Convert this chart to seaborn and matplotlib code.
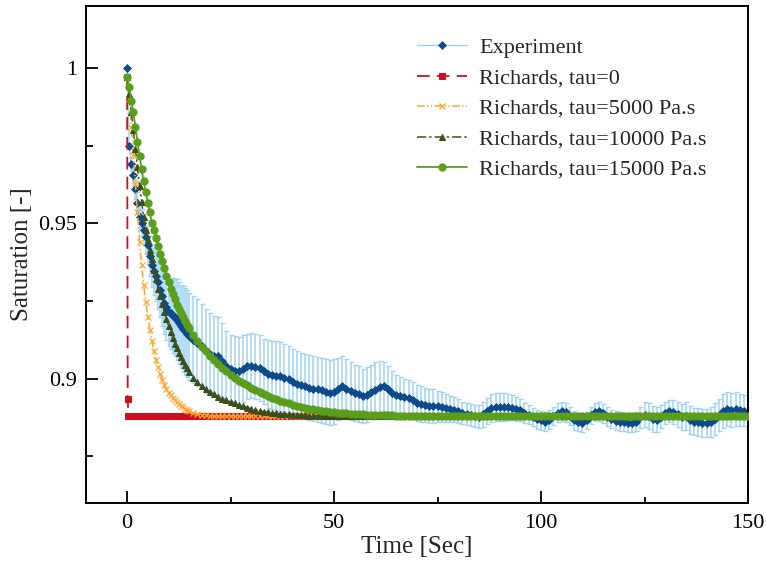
import numpy as np
import matplotlib
matplotlib.use("Agg")
import matplotlib.pyplot as plt
from matplotlib.ticker import MultipleLocator, FixedLocator
import seaborn as sns

# ---------------- data ----------------
labels = ["Experiment", "Richards, tau=0", "Richards, tau=5000 Pa.s",
          "Richards, tau=10000 Pa.s", "Richards, tau=15000 Pa.s"]

x_ticks = [0, 50, 100, 150]
y_ticks = [0.9, 0.95, 1.0]
y_tick_labels = ["0.9", "0.95", "1"]

# Every series: "early" samples every 0.5 s for t = 0 ... 14.5,
# "late" samples every 1 s for t = 15 ... 150.
exp_sat_early = [
    1.0000, 0.9750, 0.9690, 0.9655, 0.9610, 0.9565, 0.9520, 0.9500, 0.9480, 0.9455,
    0.9430, 0.9395, 0.9365, 0.9345, 0.9330, 0.9310, 0.9287, 0.9265, 0.9245, 0.9230,
    0.9215, 0.9210, 0.9203, 0.9197, 0.9190, 0.9178, 0.9168, 0.9160, 0.9152, 0.9145,
]
exp_sat_late = [
    0.9137, 0.9126, 0.9115, 0.9104, 0.9090, 0.9080,
    0.9074, 0.9072, 0.9058, 0.9040, 0.9030, 0.9026, 0.9024, 0.9032, 0.9040, 0.9042,
    0.9038, 0.9034, 0.9024, 0.9015, 0.9011, 0.9008, 0.9007, 0.9003, 0.8998, 0.8990,
    0.8983, 0.8979, 0.8975, 0.8971, 0.8968, 0.8966, 0.8962, 0.8958, 0.8955, 0.8958,
    0.8968, 0.8976, 0.8968, 0.8960, 0.8955, 0.8950, 0.8944, 0.8948, 0.8957, 0.8965,
    0.8972, 0.8975, 0.8966, 0.8955, 0.8948, 0.8944, 0.8940, 0.8938, 0.8930, 0.8922,
    0.8917, 0.8915, 0.8913, 0.8912, 0.8911, 0.8908, 0.8905, 0.8903, 0.8900, 0.8895,
    0.8890, 0.8885, 0.8882, 0.8879, 0.8878, 0.8885, 0.8897, 0.8904, 0.8908, 0.8910,
    0.8910, 0.8909, 0.8906, 0.8902, 0.8898, 0.8890, 0.8884, 0.8876, 0.8869, 0.8866,
    0.8862, 0.8868, 0.8880, 0.8890, 0.8895, 0.8892, 0.8880, 0.8866, 0.8860, 0.8858,
    0.8866, 0.8882, 0.8893, 0.8895, 0.8888, 0.8878, 0.8870, 0.8865, 0.8862, 0.8860,
    0.8858, 0.8857, 0.8862, 0.8875, 0.8884, 0.8880, 0.8870, 0.8868, 0.8878, 0.8890,
    0.8895, 0.8893, 0.8885, 0.8876, 0.8880, 0.8868, 0.8862, 0.8860, 0.8858, 0.8856,
    0.8860, 0.8870, 0.8882, 0.8895, 0.8902, 0.8898, 0.8902, 0.8900, 0.8896, 0.8890,
]
exp_err_early = [
    0.0000, 0.0010, 0.0020, 0.0025, 0.0030, 0.0035, 0.0040, 0.0045, 0.0050, 0.0055,
    0.0060, 0.0065, 0.0070, 0.0075, 0.0080, 0.0085, 0.0090, 0.0095, 0.0100, 0.0105,
    0.0110, 0.0115, 0.0120, 0.0125, 0.0130, 0.0132, 0.0135, 0.0138, 0.0140, 0.0140,
]
exp_err_late = [
    0.0140, 0.0140, 0.0140, 0.0135, 0.0135, 0.0130,
    0.0128, 0.0125, 0.0120, 0.0115, 0.0110, 0.0110, 0.0110, 0.0108, 0.0105, 0.0105,
    0.0105, 0.0105, 0.0105, 0.0108, 0.0110, 0.0112, 0.0112, 0.0110, 0.0108, 0.0105,
    0.0105, 0.0105, 0.0105, 0.0105, 0.0105, 0.0105, 0.0105, 0.0105, 0.0105, 0.0105,
    0.0100, 0.0098, 0.0095, 0.0092, 0.0090, 0.0090, 0.0088, 0.0088, 0.0088, 0.0088,
    0.0085, 0.0080, 0.0075, 0.0070, 0.0065, 0.0060, 0.0060, 0.0058, 0.0058, 0.0058,
    0.0058, 0.0055, 0.0055, 0.0055, 0.0050, 0.0048, 0.0045, 0.0042, 0.0040, 0.0038,
    0.0036, 0.0035, 0.0035, 0.0035, 0.0038, 0.0040, 0.0042, 0.0045, 0.0045, 0.0045,
    0.0045, 0.0042, 0.0040, 0.0038, 0.0035, 0.0032, 0.0030, 0.0030, 0.0030, 0.0030,
    0.0030, 0.0030, 0.0030, 0.0030, 0.0030, 0.0030, 0.0030, 0.0030, 0.0030, 0.0030,
    0.0028, 0.0028, 0.0030, 0.0030, 0.0030, 0.0030, 0.0030, 0.0030, 0.0030, 0.0030,
    0.0030, 0.0030, 0.0032, 0.0035, 0.0040, 0.0042, 0.0042, 0.0040, 0.0038, 0.0035,
    0.0035, 0.0038, 0.0040, 0.0042, 0.0045, 0.0045, 0.0045, 0.0045, 0.0045, 0.0045,
    0.0048, 0.0050, 0.0052, 0.0055, 0.0055, 0.0055, 0.0055, 0.0052, 0.0050, 0.0050,
]

# Richards tau=0: samples at t=0, 0.15, 0.3, then every second
tau0_time_head = [0, 0.15, 0.3]
tau0_sat = [
    0.997, 0.8935, 0.888,
    0.888, 0.888, 0.888, 0.888, 0.888, 0.888, 0.888, 0.888, 0.888, 0.888,
    0.888, 0.888, 0.888, 0.888, 0.888, 0.888, 0.888, 0.888, 0.888, 0.888,
    0.888, 0.888, 0.888, 0.888, 0.888, 0.888, 0.888, 0.888, 0.888, 0.888,
    0.888, 0.888, 0.888, 0.888, 0.888, 0.888, 0.888, 0.888, 0.888, 0.888,
    0.888, 0.888, 0.888, 0.888, 0.888, 0.888, 0.888, 0.888, 0.888, 0.888,
    0.888, 0.888, 0.888, 0.888, 0.888, 0.888, 0.888, 0.888, 0.888, 0.888,
    0.888, 0.888, 0.888, 0.888, 0.888, 0.888, 0.888, 0.888, 0.888, 0.888,
    0.888, 0.888, 0.888, 0.888, 0.888, 0.888, 0.888, 0.888, 0.888, 0.888,
    0.888, 0.888, 0.888, 0.888, 0.888, 0.888, 0.888, 0.888, 0.888, 0.888,
    0.888, 0.888, 0.888, 0.888, 0.888, 0.888, 0.888, 0.888, 0.888, 0.888,
    0.888, 0.888, 0.888, 0.888, 0.888, 0.888, 0.888, 0.888, 0.888, 0.888,
    0.888, 0.888, 0.888, 0.888, 0.888, 0.888, 0.888, 0.888, 0.888, 0.888,
    0.888, 0.888, 0.888, 0.888, 0.888, 0.888, 0.888, 0.888, 0.888, 0.888,
    0.888, 0.888, 0.888, 0.888, 0.888, 0.888, 0.888, 0.888, 0.888, 0.888,
    0.888, 0.888, 0.888, 0.888, 0.888, 0.888, 0.888, 0.888, 0.888, 0.888,
]

tau5000_early = [
    0.9970, 0.9900, 0.9810, 0.9720, 0.9630, 0.9535, 0.9440, 0.9365, 0.9300, 0.9248,
    0.9200, 0.9158, 0.9120, 0.9088, 0.9060, 0.9036, 0.9015, 0.8997, 0.8980, 0.8967,
    0.8955, 0.8946, 0.8938, 0.8931, 0.8925, 0.8919, 0.8913, 0.8908, 0.8903, 0.8899,
]
tau5000_late = [
    0.8896, 0.8890, 0.8886, 0.8884, 0.8882,
    0.8881, 0.888, 0.888, 0.888, 0.888, 0.888, 0.888, 0.888, 0.888, 0.888,
    0.888, 0.888, 0.888, 0.888, 0.888, 0.888, 0.888, 0.888, 0.888, 0.888,
    0.888, 0.888, 0.888, 0.888, 0.888, 0.888, 0.888, 0.888, 0.888, 0.888,
    0.888, 0.888, 0.888, 0.888, 0.888, 0.888, 0.888, 0.888, 0.888, 0.888,
    0.888, 0.888, 0.888, 0.888, 0.888, 0.888, 0.888, 0.888, 0.888, 0.888,
    0.888, 0.888, 0.888, 0.888, 0.888, 0.888, 0.888, 0.888, 0.888, 0.888,
    0.888, 0.888, 0.888, 0.888, 0.888, 0.888, 0.888, 0.888, 0.888, 0.888,
    0.888, 0.888, 0.888, 0.888, 0.888, 0.888, 0.888, 0.888, 0.888, 0.888,
    0.888, 0.888, 0.888, 0.888, 0.888, 0.888, 0.888, 0.888, 0.888, 0.888,
    0.888, 0.888, 0.888, 0.888, 0.888, 0.888, 0.888, 0.888, 0.888, 0.888,
    0.888, 0.888, 0.888, 0.888, 0.888, 0.888, 0.888, 0.888, 0.888, 0.888,
    0.888, 0.888, 0.888, 0.888, 0.888, 0.888, 0.888, 0.888, 0.888, 0.888,
    0.888, 0.888, 0.888, 0.888, 0.888, 0.888, 0.888, 0.888, 0.888, 0.888,
    0.888,
]

tau10000_early = [
    0.9970, 0.9918, 0.9860, 0.9800, 0.9740, 0.9680, 0.9620, 0.9570, 0.9520, 0.9480,
    0.9445, 0.9415, 0.9385, 0.9350, 0.9320, 0.9290, 0.9265, 0.9240, 0.9215, 0.9192,
    0.9170, 0.9150, 0.9130, 0.9113, 0.9098, 0.9084, 0.9070, 0.9057, 0.9045, 0.9033,
]
tau10000_late = [
    0.9022, 0.9003, 0.8988, 0.8975, 0.8966,
    0.8957, 0.8949, 0.8942, 0.8936, 0.8930, 0.8925, 0.8920, 0.8915, 0.8911, 0.8907,
    0.8903, 0.8900, 0.8897, 0.8894, 0.8892, 0.8890, 0.8888, 0.8887, 0.8886, 0.8885,
    0.8884, 0.8883, 0.8882, 0.8882, 0.8881, 0.8881, 0.888, 0.888, 0.888, 0.888,
    0.888, 0.888, 0.888, 0.888, 0.888, 0.888, 0.888, 0.888, 0.888, 0.888,
    0.888, 0.888, 0.888, 0.888, 0.888, 0.888, 0.888, 0.888, 0.888, 0.888,
    0.888, 0.888, 0.888, 0.888, 0.888, 0.888, 0.888, 0.888, 0.888, 0.888,
    0.888, 0.888, 0.888, 0.888, 0.888, 0.888, 0.888, 0.888, 0.888, 0.888,
    0.888, 0.888, 0.888, 0.888, 0.888, 0.888, 0.888, 0.888, 0.888, 0.888,
    0.888, 0.888, 0.888, 0.888, 0.888, 0.888, 0.888, 0.888, 0.888, 0.888,
    0.888, 0.888, 0.888, 0.888, 0.888, 0.888, 0.888, 0.888, 0.888, 0.888,
    0.888, 0.888, 0.888, 0.888, 0.888, 0.888, 0.888, 0.888, 0.888, 0.888,
    0.888, 0.888, 0.888, 0.888, 0.888, 0.888, 0.888, 0.888, 0.888, 0.888,
    0.888, 0.888, 0.888, 0.888, 0.888, 0.888, 0.888, 0.888, 0.888, 0.888,
    0.888,
]

tau15000_early = [
    0.9970, 0.9938, 0.9895, 0.9857, 0.9810, 0.9762, 0.9717, 0.9674, 0.9636, 0.9601,
    0.9567, 0.9535, 0.9502, 0.9478, 0.9454, 0.9428, 0.9402, 0.9378, 0.9355, 0.9332,
    0.9310, 0.9290, 0.9272, 0.9255, 0.9238, 0.9224, 0.9210, 0.9197, 0.9185, 0.9173,
]
tau15000_late = [
    0.9162, 0.9140, 0.9120, 0.9103, 0.9088,
    0.9073, 0.9060, 0.9047, 0.9035, 0.9024, 0.9013, 0.9003, 0.8994, 0.8986, 0.8978,
    0.8970, 0.8963, 0.8956, 0.8950, 0.8944, 0.8938, 0.8933, 0.8928, 0.8924, 0.8920,
    0.8916, 0.8912, 0.8909, 0.8906, 0.8903, 0.8901, 0.8899, 0.8897, 0.8895, 0.8893,
    0.8892, 0.8890, 0.8889, 0.8888, 0.8887, 0.8886, 0.8885, 0.8885, 0.8884, 0.8884,
    0.8883, 0.8883, 0.8882, 0.8882, 0.8882, 0.8881, 0.8881, 0.8881, 0.8881, 0.8881,
    0.888, 0.888, 0.888, 0.888, 0.888, 0.888, 0.888, 0.888, 0.888, 0.888,
    0.888, 0.888, 0.888, 0.888, 0.888, 0.888, 0.888, 0.888, 0.888, 0.888,
    0.888, 0.888, 0.888, 0.888, 0.888, 0.888, 0.888, 0.888, 0.888, 0.888,
    0.888, 0.888, 0.888, 0.888, 0.888, 0.888, 0.888, 0.888, 0.888, 0.888,
    0.888, 0.888, 0.888, 0.888, 0.888, 0.888, 0.888, 0.888, 0.888, 0.888,
    0.888, 0.888, 0.888, 0.888, 0.888, 0.888, 0.888, 0.888, 0.888, 0.888,
    0.888, 0.888, 0.888, 0.888, 0.888, 0.888, 0.888, 0.888, 0.888, 0.888,
    0.888, 0.888, 0.888, 0.888, 0.888, 0.888, 0.888, 0.888, 0.888, 0.888,
    0.888,
]


# ---------------- time axes ----------------
def time_axis(early, late):
    return np.concatenate([0.5 * np.arange(len(early)), 15 + np.arange(len(late))])


exp_time = time_axis(exp_sat_early, exp_sat_late)
exp_sat = np.concatenate([exp_sat_early, exp_sat_late])
exp_err = np.concatenate([exp_err_early, exp_err_late])
tau0_time = np.concatenate([tau0_time_head, np.arange(1, len(tau0_sat) - len(tau0_time_head) + 1)])
t5000 = time_axis(tau5000_early, tau5000_late)
s5000 = np.concatenate([tau5000_early, tau5000_late])
t10000 = time_axis(tau10000_early, tau10000_late)
s10000 = np.concatenate([tau10000_early, tau10000_late])
t15000 = time_axis(tau15000_early, tau15000_late)
s15000 = np.concatenate([tau15000_early, tau15000_late])

# ---------------- style ----------------
sns.set_theme(style="ticks")
plt.rcParams["font.family"] = ["Liberation Serif", "DejaVu Serif"]

c_exp_line = "#9fd3f3"
c_exp_mark = "#0b4a8c"
c_red = "#cc1020"
c_orange = "#ffa531"
c_dkgreen = "#3e4f1e"
c_green = "#5a9e1c"

fig = plt.figure(figsize=(7.66, 5.61), dpi=100)
ax = fig.add_axes([0.1119, 0.1036, 0.8646, 0.8858])

# experiment with error bars
ax.errorbar(exp_time, exp_sat, yerr=exp_err, fmt="none", ecolor=c_exp_line,
            elinewidth=1.1, capsize=1.8, capthick=1.0, zorder=1)
sns.lineplot(x=exp_time, y=exp_sat, ax=ax, color=c_exp_line, lw=1.0,
             marker="D", markersize=4.2, markerfacecolor=c_exp_mark,
             markeredgecolor=c_exp_mark, markeredgewidth=0.5,
             sort=False, errorbar=None, label=labels[0], zorder=2)
sns.lineplot(x=tau0_time, y=tau0_sat, ax=ax, color=c_red, lw=1.3,
             linestyle=(0, (7, 4)), marker="s", markersize=4.4,
             markeredgecolor=c_red, sort=False, errorbar=None,
             label=labels[1], zorder=3)
sns.lineplot(x=t5000, y=s5000, ax=ax, color=c_orange, lw=1.1,
             linestyle=(0, (5, 1.5, 1, 1.5, 1, 1.5)), marker="x", markersize=3.8,
             markeredgewidth=0.9, markeredgecolor=c_orange, sort=False,
             errorbar=None, label=labels[2], zorder=4)
sns.lineplot(x=t10000, y=s10000, ax=ax, color=c_dkgreen, lw=1.1,
             linestyle=(0, (6, 2, 1.5, 2)), marker="^", markersize=3.8,
             markeredgecolor=c_dkgreen, sort=False, errorbar=None,
             label=labels[3], zorder=5)
sns.lineplot(x=t15000, y=s15000, ax=ax, color=c_green, lw=1.3,
             marker="o", markersize=5.2, markeredgecolor=c_green,
             sort=False, errorbar=None, label=labels[4], zorder=6)

# axes
ax.set_xlim(-10, 150)
ax.set_ylim(0.86, 1.02)
ax.xaxis.set_major_locator(FixedLocator(x_ticks))
ax.xaxis.set_minor_locator(MultipleLocator(25))
ax.set_yticks(y_ticks)
ax.set_yticklabels(y_tick_labels)
ax.yaxis.set_minor_locator(MultipleLocator(0.025))
ax.tick_params(axis="both", which="both", direction="in", colors="black",
               labelsize=16, top=False, right=False)
ax.tick_params(axis="x", which="major", length=8.6, width=1.3, pad=8)
ax.tick_params(axis="x", which="minor", length=4.3, width=1.3)
ax.tick_params(axis="y", which="major", length=8.6, width=1.3, pad=6)
ax.tick_params(axis="y", which="minor", length=5.0, width=1.3)
for s in ax.spines.values():
    s.set_visible(True)
    s.set_color("black")
    s.set_linewidth(1.4)
ax.set_xlabel("Time [Sec]", fontsize=18, labelpad=2)
ax.set_ylabel("Saturation [-]", fontsize=18, labelpad=4)
ax.grid(False)

leg = ax.legend(loc="upper left", bbox_to_anchor=(0.5, 0.937), frameon=False,
                fontsize=16, handlelength=2.25, handletextpad=0.55,
                labelspacing=0.45, borderpad=0, borderaxespad=0, numpoints=1)

fig.savefig("out.png", dpi=100)
